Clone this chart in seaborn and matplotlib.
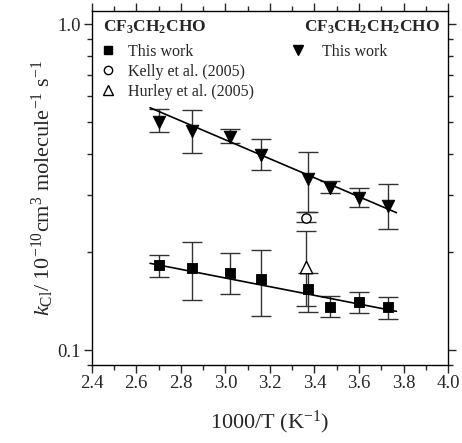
import numpy as np
import pandas as pd
import matplotlib
matplotlib.use("Agg")
import matplotlib.pyplot as plt
from matplotlib.lines import Line2D
from matplotlib.ticker import FixedLocator, NullFormatter, FixedFormatter
import seaborn as sns

# data
inv_T = [2.70, 2.85, 3.02, 3.16, 3.37, 3.47, 3.60, 3.73]

# CF3CH2CHO (this work)
k_ald = [0.182, 0.178, 0.173, 0.165, 0.154, 0.136, 0.140, 0.1355]
k_ald_hi = [0.196, 0.214, 0.198, 0.203, 0.173, 0.147, 0.1506, 0.146]
k_ald_lo = [0.1673, 0.142, 0.149, 0.127, 0.131, 0.126, 0.130, 0.125]

# CF3CH2CH2CHO (this work)
k_but = [0.500, 0.471, 0.449, 0.398, 0.334, 0.315, 0.292, 0.277]
k_but_hi = [0.549, 0.545, 0.477, 0.445, 0.404, 0.331, 0.315, 0.324]
k_but_lo = [0.466, 0.401, 0.432, 0.356, 0.266, 0.303, 0.275, 0.235]

# literature values at 298 K
kelly_x, kelly_k, kelly_lo, kelly_hi = [3.36], [0.255], [0.248], [0.266]
hurley_x, hurley_k, hurley_lo, hurley_hi = [3.36], [0.1795], [0.137], [0.232]

# Arrhenius fit lines (end points)
fit_x = [2.662, 3.768]
fit_ald = [0.1846, 0.1315]
fit_but = [0.554, 0.264]

sns.set_style("ticks")
plt.rcParams["font.family"] = ["Liberation Serif", "DejaVu Serif"]
plt.rcParams["mathtext.fontset"] = "custom"
plt.rcParams["mathtext.rm"] = "Liberation Serif"
plt.rcParams["mathtext.it"] = "Liberation Serif:italic"
plt.rcParams["mathtext.bf"] = "Liberation Serif:bold"

fig = plt.figure(figsize=(4.62, 4.43), dpi=100)
ax = fig.add_axes([0.1985, 0.176, 0.7715, 0.800])

ebar_kw = dict(fmt="none", ecolor="#333333", elinewidth=1.0, capsize=7.5, capthick=1.0)

def yerr(k, lo, hi):
    return [np.array(k) - np.array(lo), np.array(hi) - np.array(k)]

ax.errorbar(inv_T, k_ald, yerr=yerr(k_ald, k_ald_lo, k_ald_hi), **ebar_kw)
ax.errorbar(inv_T, k_but, yerr=yerr(k_but, k_but_lo, k_but_hi), **ebar_kw)
ax.errorbar(kelly_x, kelly_k, yerr=yerr(kelly_k, kelly_lo, kelly_hi), **ebar_kw)
ax.errorbar(hurley_x, hurley_k, yerr=yerr(hurley_k, hurley_lo, hurley_hi), **ebar_kw)

sns.lineplot(x=fit_x, y=fit_ald, color="black", lw=1.2, ax=ax)
sns.lineplot(x=fit_x, y=fit_but, color="black", lw=1.2, ax=ax)

sns.scatterplot(x=inv_T, y=k_ald, marker="s", s=60, color="black", edgecolor="black", zorder=5, ax=ax)
sns.scatterplot(x=inv_T, y=k_but, marker="v", s=80, color="black", edgecolor="black", zorder=5, ax=ax)
sns.scatterplot(x=kelly_x, y=kelly_k, marker="o", s=45, facecolor="white", edgecolor="black", linewidth=1.0, zorder=5, ax=ax)
sns.scatterplot(x=hurley_x, y=hurley_k, marker="^", s=80, facecolor="white", edgecolor="black", linewidth=1.0, zorder=5, ax=ax)

ax.set_yscale("log")
ax.set_xlim(2.4, 4.0)
ax.set_ylim(0.09, 1.1)

ax.xaxis.set_major_locator(FixedLocator(np.arange(2.4, 4.01, 0.2)))
ax.xaxis.set_minor_locator(FixedLocator(np.arange(2.5, 4.0, 0.2)))
ax.yaxis.set_major_locator(FixedLocator([0.1, 1.0]))
ax.yaxis.set_major_formatter(FixedFormatter(["0.1", "1.0"]))
ax.yaxis.set_minor_locator(FixedLocator([0.09] + [i / 10 for i in range(2, 10)]))
ax.yaxis.set_minor_formatter(NullFormatter())

ax.tick_params(which="both", direction="out", top=True, right=True, labelsize=13.5, width=1.0)
ax.tick_params(which="major", length=6)
ax.tick_params(which="minor", length=3.5)
ax.tick_params(axis="x", pad=1)
ax.tick_params(axis="y", pad=2)
for sp in ax.spines.values():
    sp.set_linewidth(1.0)
    sp.set_color("black")

ax.set_xlabel("1000/T (K$^{-1}$)", fontsize=16, labelpad=12)
ax.set_ylabel(r"$k_{\rm Cl}$/ 10$^{-10}$cm$^3$ molecule$^{-1}$ s$^{-1}$", fontsize=16, labelpad=1)

leg_kw = dict(loc="upper left", frameon=False, fontsize=11.5, handlelength=0.6,
              labelspacing=0.25, title_fontproperties={"weight": "bold", "size": 12.5},
              alignment="left", borderaxespad=0.3)

h1 = [
    Line2D([], [], ls="none", marker="s", ms=6, color="black"),
    Line2D([], [], ls="none", marker="o", ms=6, mfc="white", mec="black"),
    Line2D([], [], ls="none", marker="^", ms=7, mfc="white", mec="black"),
]
leg1 = ax.legend(h1, ["This work", "Kelly et al. (2005)", "Hurley et al. (2005)"],
                 title=r"CF$_\mathbf{3}$CH$_\mathbf{2}$CHO", bbox_to_anchor=(0.0, 0.9987),
                 handletextpad=1.0, **leg_kw)
leg1.get_title().set_position((0, 4))
ax.add_artist(leg1)

h2 = [Line2D([], [], ls="none", marker="v", ms=7, color="black")]
leg2 = ax.legend(h2, ["This work"], title=r"CF$_\mathbf{3}$CH$_\mathbf{2}$CH$_\mathbf{2}$CHO",
                 bbox_to_anchor=(0.534, 0.9987), handletextpad=1.2, **leg_kw)
leg2.get_title().set_position((10.5, 4))

fig.savefig("out.png", dpi=100)
